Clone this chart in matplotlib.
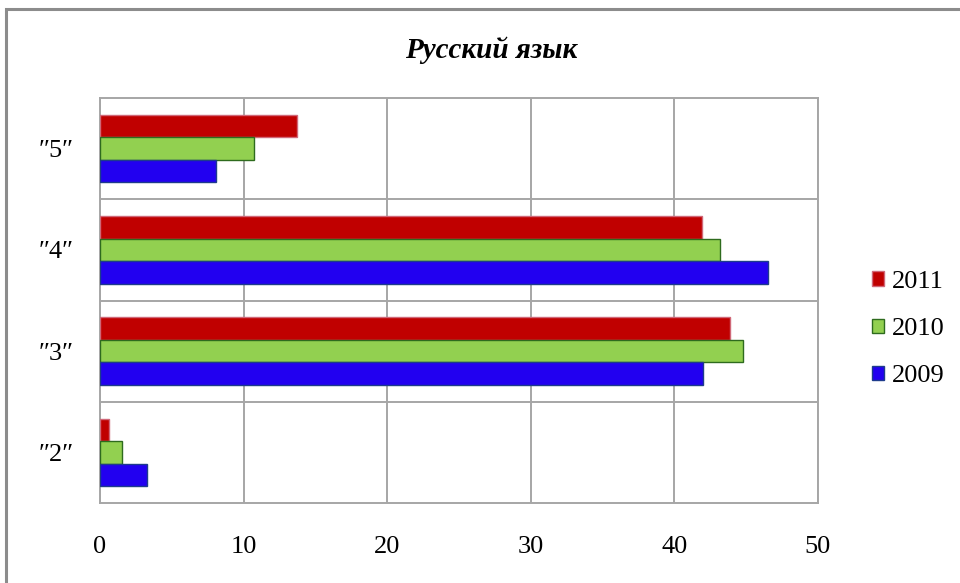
import matplotlib
matplotlib.use("Agg")
import matplotlib.pyplot as plt
from matplotlib.patches import Rectangle
import numpy as np

categories = ["″2″", "″3″", "″4″", "″5″"]
years = ["2011", "2010", "2009"]
values_2011 = [0.65, 43.9, 41.9, 13.7]
values_2010 = [1.5, 44.8, 43.2, 10.75]
values_2009 = [3.3, 42.0, 46.5, 8.1]
x_ticks = [0, 10, 20, 30, 40, 50]

fills = ["#C00000", "#92D050", "#2200F0"]
edges = ["#D06878", "#2E6B1E", "#1E3C8C"]
serif = ["Liberation Serif", "DejaVu Serif"]

fig = plt.figure(figsize=(9.6, 5.83), dpi=100)
fig.patches.append(Rectangle((6 / 960, -0.05), 1.2, 1 - 9 / 583 + 0.05,
                             transform=fig.transFigure, fill=False,
                             edgecolor="#8C8C8C", linewidth=2.2))

ax = fig.add_axes([100 / 960, 1 - 503 / 583, 718 / 960, 405 / 583])

pos = np.arange(len(categories))
h = 0.223
series = [values_2011, values_2010, values_2009]
offsets = [h, 0.0, -h]
for vals, off, fc, ec, lab in zip(series, offsets, fills, edges, years):
    ax.barh(pos + off, vals, height=h, color=fc, edgecolor=ec,
            linewidth=1.0, label=lab, zorder=3)

ax.set_xlim(0, 50)
ax.set_ylim(-0.5, len(categories) - 0.5)
ax.set_xticks(x_ticks)
ax.set_xticklabels([str(t) for t in x_ticks], fontfamily=serif, fontsize=19)
ax.set_yticks(pos)
ax.set_yticklabels(categories, fontfamily=serif, fontsize=19)
ax.set_yticks(pos[:-1] + 0.5, minor=True)
ax.tick_params(axis="both", which="both", length=0)
ax.tick_params(axis="x", pad=24)
ax.tick_params(axis="y", pad=19)
ax.grid(axis="x", which="major", color="#A6A6A6", linewidth=1.4, zorder=0)
ax.grid(axis="y", which="minor", color="#A6A6A6", linewidth=1.4, zorder=0)
for s in ax.spines.values():
    s.set_color("#A6A6A6")
    s.set_linewidth(1.4)

fig.text(491 / 960, 1 - 50 / 583, "Русский язык", ha="center", va="center",
         fontfamily=serif, fontsize=21, fontweight="bold", fontstyle="italic")

leg = ax.legend(loc="center left", frameon=False,
                prop={"family": serif, "size": 19},
                handlelength=0.45, handleheight=0.45, handletextpad=0.3,
                labelspacing=0.95, borderaxespad=0, borderpad=0)
leg.set_bbox_to_anchor((872 / 960, 1 - 329 / 583), transform=fig.transFigure)

fig.savefig("out.png", dpi=100)
